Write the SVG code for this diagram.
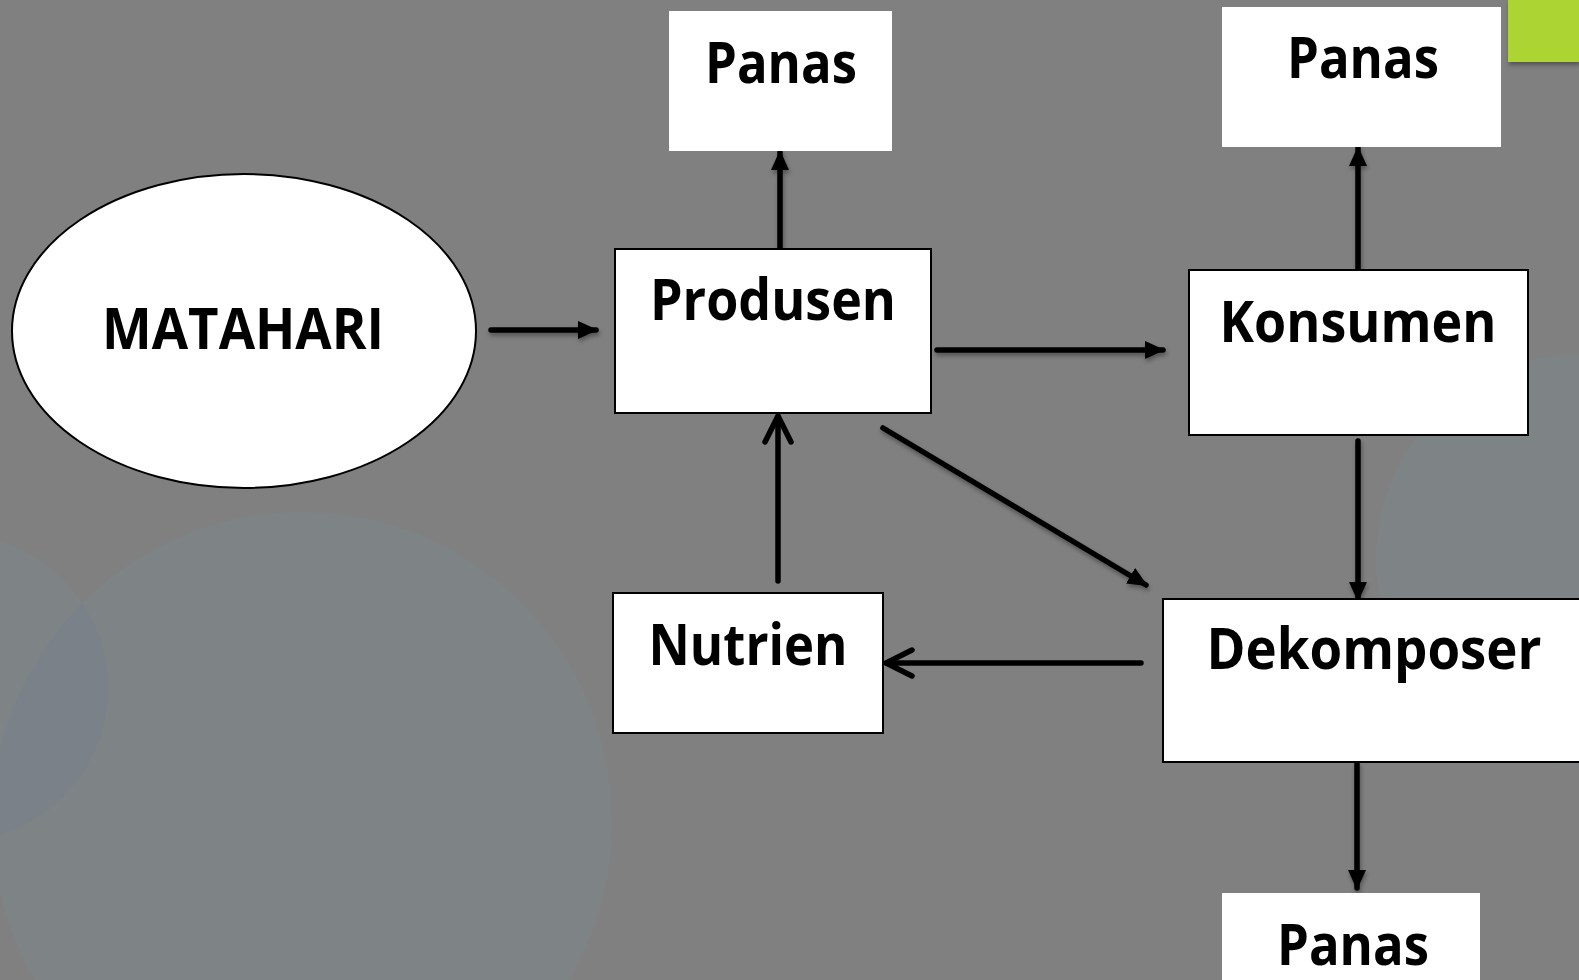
<svg xmlns="http://www.w3.org/2000/svg" width="1579" height="980" viewBox="0 0 1579 980">
  <style>
    .box { fill: #ffffff; stroke: #000000; stroke-width: 2; }
    .plain { fill: #ffffff; stroke: none; }
    .lbl { font-family: "Open Sans", "Liberation Sans", sans-serif; font-weight: bold; font-size: 58px; fill: #000000; }
    .wire { stroke: #000000; stroke-width: 5.5; fill: none; stroke-linecap: round; }
    .solid { marker-end: url(#tri); }
    .disc { fill: #7e8385; }
  </style>
  <defs>
    <marker id="tri" viewBox="0 0 20 20" refX="18" refY="10" markerWidth="20" markerHeight="20" markerUnits="userSpaceOnUse" orient="auto">
      <path d="M0,1 L20,10 L0,19 Z" fill="#000000"/>
    </marker>
    <filter id="shade" filterUnits="userSpaceOnUse" x="0" y="0" width="1579" height="980">
      <feDropShadow dx="1" dy="3" stdDeviation="2" flood-color="#000000" flood-opacity="0.35"/>
    </filter>
    <clipPath id="bigDisc">
      <circle cx="302" cy="822" r="310"/>
    </clipPath>
  </defs>

  <!-- backdrop -->
  <rect x="0" y="0" width="1579" height="980" fill="#808080"/>
  <circle class="disc" cx="-46" cy="688" r="154"/>
  <circle class="disc" cx="302" cy="822" r="310"/>
  <circle cx="-46" cy="688" r="154" fill="#7b8189" clip-path="url(#bigDisc)"/>
  <circle class="disc" cx="1582" cy="560" r="206"/>
  <rect x="1508" y="0" width="71" height="62" fill="#acd433" filter="url(#shade)"/>

  <!-- connectors -->
  <g id="connectors">
    <g filter="url(#shade)">
      <line class="wire solid" x1="491" y1="330" x2="596" y2="330"/>
      <line class="wire solid" x1="780" y1="250" x2="780" y2="152"/>
      <line class="wire solid" x1="937" y1="350" x2="1163" y2="350"/>
      <line class="wire solid" x1="1358" y1="271" x2="1358" y2="148"/>
      <line class="wire solid" x1="1358" y1="441" x2="1358" y2="600"/>
      <line class="wire solid" x1="883" y1="428" x2="1146" y2="585"/>
      <line class="wire solid" x1="1357" y1="764" x2="1357" y2="888"/>
    </g>
    <line class="wire" x1="1141" y1="663" x2="888" y2="663"/>
    <path class="wire" d="M912,650 L886,663 L912,676"/>
    <line class="wire" x1="778" y1="581" x2="778" y2="419"/>
    <path class="wire" d="M765,442 L778,416 L791,442"/>
  </g>

  <!-- nodes -->
  <g id="matahari">
    <ellipse class="box" cx="244" cy="331" rx="232" ry="157"/>
    <text class="lbl" x="243" y="349" text-anchor="middle" textLength="282" lengthAdjust="spacingAndGlyphs">MATAHARI</text>
  </g>
  <g id="panas-produsen">
    <rect class="plain" x="669" y="11" width="223" height="140"/>
    <text class="lbl" x="781" y="83" text-anchor="middle" textLength="152" lengthAdjust="spacingAndGlyphs">Panas</text>
  </g>
  <g id="panas-konsumen">
    <rect class="plain" x="1222" y="7" width="279" height="140"/>
    <text class="lbl" x="1363" y="78" text-anchor="middle" textLength="152" lengthAdjust="spacingAndGlyphs">Panas</text>
  </g>
  <g id="produsen">
    <rect class="box" x="615" y="249" width="316" height="164"/>
    <text class="lbl" x="773" y="320" text-anchor="middle" textLength="246" lengthAdjust="spacingAndGlyphs">Produsen</text>
  </g>
  <g id="konsumen">
    <rect class="box" x="1189" y="270" width="339" height="165"/>
    <text class="lbl" x="1358" y="342" text-anchor="middle" textLength="277" lengthAdjust="spacingAndGlyphs">Konsumen</text>
  </g>
  <g id="nutrien">
    <rect class="box" x="613" y="593" width="270" height="140"/>
    <text class="lbl" x="748" y="665" text-anchor="middle" textLength="199" lengthAdjust="spacingAndGlyphs">Nutrien</text>
  </g>
  <g id="dekomposer">
    <rect class="box" x="1163" y="599" width="430" height="163"/>
    <text class="lbl" x="1374" y="669" text-anchor="middle" textLength="335" lengthAdjust="spacingAndGlyphs">Dekomposer</text>
  </g>
  <g id="panas-dekomposer">
    <rect class="plain" x="1222" y="893" width="258" height="100"/>
    <text class="lbl" x="1353" y="965" text-anchor="middle" textLength="152" lengthAdjust="spacingAndGlyphs">Panas</text>
  </g>
</svg>
